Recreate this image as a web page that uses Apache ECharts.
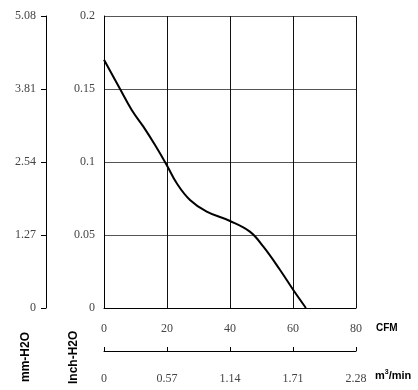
<!DOCTYPE html>
<html>
<head>
<meta charset="utf-8">
<script src="https://cdn.jsdelivr.net/npm/echarts@6/dist/echarts.min.js"></script>
<style>html,body{margin:0;padding:0;background:#fff}#chart{width:418px;height:390px}</style>
</head>
<body>
<div id="chart"></div>
<script>
// fan curve
var cfm = [0, 5.1, 8.8, 12.5, 16.2, 19.9, 23.1, 27.3, 32.6, 40, 46.3, 50.6, 55.9, 60.1, 64.1];
var inchH2O = [0.170, 0.150, 0.1356, 0.1242, 0.1116, 0.098, 0.0854, 0.074, 0.066, 0.0596, 0.0523, 0.042, 0.026, 0.0123, 0];
var curve = cfm.map((x, i) => [x, inchH2O[i]]);

var numFont = {fontFamily: 'Liberation Serif', fontSize: 12, color: '#444'};

var chartDom = document.getElementById('chart');
var myChart = echarts.init(chartDom);
var option = {
    animation: false,
    grid: {left: 104, top: 16, width: 252, height: 292, show: false},
    xAxis: [
        {
            type: 'value', min: 0, max: 80, interval: 20,
            axisLine: {show: true, onZero: false, lineStyle: {color: '#000'}},
            axisTick: {show: false},
            splitLine: {show: true, lineStyle: {color: '#111', width: 1}},
            axisLabel: Object.assign({margin: 15}, numFont)
        },
        {
            type: 'value', min: 0, max: 2.28, interval: 0.57, position: 'bottom', offset: 43,
            axisLine: {show: true, onZero: false, lineStyle: {color: '#000'}},
            axisTick: {show: true, inside: true, length: 4, lineStyle: {color: '#000'}},
            splitLine: {show: false},
            axisLabel: Object.assign({margin: 22, formatter: v => v === 0 ? '0' : v.toFixed(2)}, numFont)
        }
    ],
    yAxis: [
        {
            type: 'value', min: 0, max: 0.2, interval: 0.05,
            axisLine: {show: true, onZero: false, lineStyle: {color: '#000'}},
            axisTick: {show: false},
            splitLine: {show: true, lineStyle: {color: '#555', width: 1.2}},
            axisLabel: Object.assign({margin: 9}, numFont)
        },
        {
            type: 'value', min: 0, max: 5.08, interval: 1.27, position: 'left', offset: 58,
            axisLine: {show: true, onZero: false, lineStyle: {color: '#000'}},
            axisTick: {show: true, length: 5, lineStyle: {color: '#000'}},
            splitLine: {show: false},
            axisLabel: Object.assign({margin: 10, formatter: v => v === 0 ? '0' : v.toFixed(2)}, numFont)
        }
    ],
    graphic: [
        {type: 'text', left: 376, top: 323, style: {text: 'CFM', font: 'bold 10px Liberation Sans', fill: '#000'}},
        {type: 'text', left: 375, top: 369, style: {
            text: 'm{s|3}/min', font: 'bold 11px Liberation Sans', fill: '#000',
            rich: {s: {fontSize: 7, fontWeight: 'bold', fontFamily: 'Liberation Sans', verticalAlign: 'top', padding: [0, 0, 6, 0]}}
        }},
        {type: 'text', x: 20, y: 382, rotation: Math.PI / 2, style: {text: 'mm-H2O', font: 'bold 12px Liberation Sans', fill: '#000'}},
        {type: 'text', x: 68, y: 384, rotation: Math.PI / 2, style: {text: 'Inch-H2O', font: 'bold 12px Liberation Sans', fill: '#000'}}
    ],
    series: [
        {
            type: 'line', xAxisIndex: 0, yAxisIndex: 0, smooth: 0.4, showSymbol: false,
            lineStyle: {color: '#000', width: 2},
            data: curve
        }
    ]
};
option && myChart.setOption(option);
</script>
</body>
</html>
